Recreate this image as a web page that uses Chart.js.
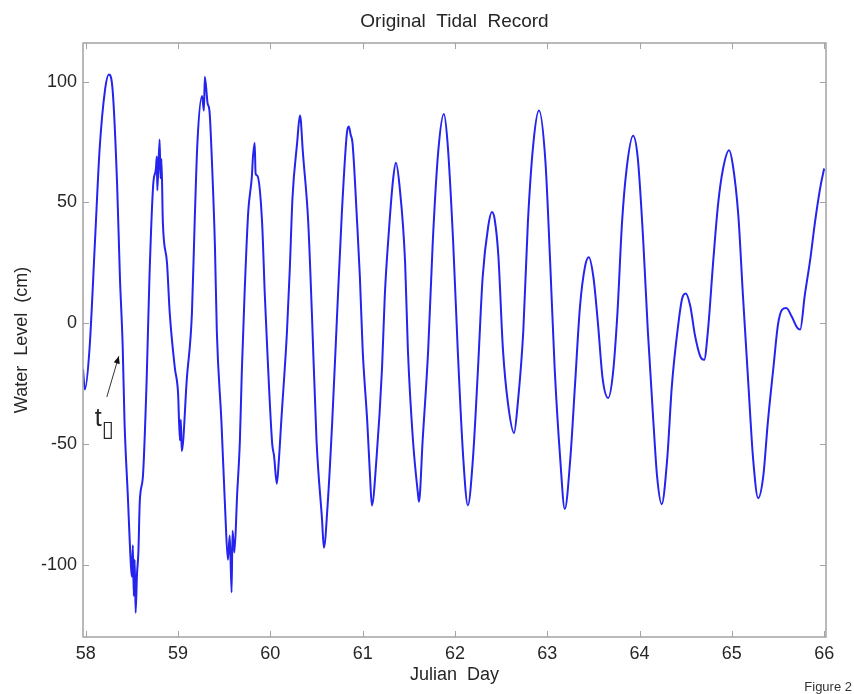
<!DOCTYPE html>
<html>
<head>
<meta charset="utf-8">
<title>Original Tidal Record</title>
<script src="https://cdn.jsdelivr.net/npm/chart.js@4.4.1/dist/chart.umd.min.js"></script>
<style>
    html, body { margin: 0; padding: 0; background: #ffffff; }
    #wrap { width: 854px; height: 694px; }
</style>
</head>
<body>
<div id="wrap"><canvas id="tideChart" width="854" height="694"></canvas></div>
<script>
// Tide record data (Julian day vs water level in cm)
const days = [
    57.97, 57.99, 58.04, 58.10, 58.15, 58.21, 58.25, 58.29, 58.34, 58.37,
    58.40, 58.42, 58.455, 58.49, 58.50, 58.51, 58.52, 58.53, 58.54, 58.555,
    58.57, 58.585, 58.62, 58.66, 58.69, 58.73, 58.76, 58.77, 58.775, 58.80,
    58.81, 58.82, 58.835, 58.88, 58.91, 58.965, 59.00, 59.02, 59.03, 59.04,
    59.095, 59.15, 59.18, 59.21, 59.26, 59.28, 59.29, 59.32, 59.34, 59.37,
    59.40, 59.42, 59.47, 59.51, 59.54, 59.56, 59.58, 59.59, 59.61, 59.64,
    59.67, 59.69, 59.72, 59.76, 59.80, 59.81, 59.83, 59.84, 59.86, 59.91,
    59.94, 59.97, 60.02, 60.04, 60.07, 60.09, 60.12, 60.18, 60.21, 60.24,
    60.29, 60.32, 60.33, 60.35, 60.41, 60.45, 60.50, 60.56, 60.58, 60.62,
    60.67, 60.72, 60.775, 60.83, 60.85, 60.87, 60.89, 60.94, 60.97, 61.00,
    61.05, 61.08, 61.10, 61.15, 61.21, 61.24, 61.285, 61.33, 61.36, 61.40,
    61.46, 61.49, 61.545, 61.60, 61.61, 61.65, 61.71, 61.76, 61.82, 61.88,
    61.92, 61.98, 62.03, 62.09, 62.14, 62.195, 62.25, 62.30, 62.36, 62.40,
    62.43, 62.47, 62.52, 62.575, 62.64, 62.68, 62.74, 62.79, 62.85, 62.91,
    62.98, 63.03, 63.08, 63.14, 63.19, 63.25, 63.30, 63.355, 63.41, 63.45,
    63.50, 63.55, 63.60, 63.66, 63.71, 63.76, 63.81, 63.86, 63.93, 63.98,
    64.04, 64.09, 64.15, 64.19, 64.24, 64.30, 64.35, 64.41, 64.46, 64.50,
    64.55, 64.60, 64.66, 64.70, 64.74, 64.80, 64.85, 64.905, 64.97, 65.01,
    65.07, 65.12, 65.18, 65.23, 65.285, 65.34, 65.39, 65.45, 65.50, 65.545,
    65.59, 65.65, 65.71, 65.74, 65.79, 65.85, 65.90, 65.96, 66.00
];
const levels = [
    -19, -27.5, -11, 34, 72, 97, 103, 97, 57, 19,
    -9.5, -41, -71, -101, -105, -92, -113, -98, -120, -104,
    -95, -74, -63, -23, 19, 57, 64, 69, 55, 76,
    60, 68, 42, 25, 4, -18.5, -29, -48.5, -40, -53,
    -23, 4, 42, 75, 94, 88, 102, 91, 88, 64,
    31, -3.5, -41, -77, -98, -88, -111.5, -86, -95, -71,
    -48.5, -21, 11.5, 46, 61, 68, 74.6, 62, 61, 42,
    11.5, -14, -50, -55, -66.5, -58, -39.5, -3.5, 22, 52,
    74.6, 86, 84, 72, 42, 4, -48.5, -81.5, -93, -75.5,
    -41, 1, 46, 79, 81.4, 78, 74.6, 41.6, 19, -11,
    -41, -63.5, -75.5, -56, -18.5, 11.5, 38.6, 59.6, 66.4, 56.6,
    25, -11, -48.5, -71, -74, -48.5, -11, 34, 71.6, 86.6,
    74.6, 34, -11, -56, -75.5, -56, -18.5, 19, 40, 46,
    43, 28, -11, -33.5, -45.5, -33.5, -3.5, 41.6, 74.6, 88,
    67, 26.6, -18.5, -56, -77, -56, -26, 7, 23.6, 27.3,
    19, -0.5, -23, -31, -21.5, 4, 41.6, 64, 77.6, 68.6,
    34, -3.5, -41, -63.5, -75, -56, -26, -3.5, 10, 12.3,
    7, -5, -14, -15.2, -3.5, 26.6, 49, 64, 71.6, 65.6,
    44.6, 11.5, -26, -56, -72.5, -63.5, -41, -18.5, -0.5, 5.6,
    6.3, 2.6, -2, -2.7, 11.5, 26.6, 41.6, 56.6, 64
];

// Axis ticks
const xTicks = [58, 59, 60, 61, 62, 63, 64, 65, 66];
const yTicks = [-100, -50, 0, 50, 100];

// t0 marker (arrow tail, arrow tip, label position) in data units
const markerTail = [58.228, -30.6];
const markerTip = [58.358, -13.7];
const markerLabel = [58.12, -42.5];

const textColor = '#262626';
const frameColor = '#a3a3a3';
const fontFamily = '"Liberation Sans", Arial, Helvetica, sans-serif';

// Frame, inward tick marks, t0 annotation and figure tag
const framePlugin = {
    id: 'matlabFrame',
    afterDatasetsDraw(chart) {
        const { ctx, chartArea: a, scales } = chart;
        const xs = scales.x, ys = scales.y;
        ctx.save();
        ctx.strokeStyle = frameColor;
        ctx.lineWidth = 1.5;
        ctx.strokeRect(a.left, a.top, a.right - a.left, a.bottom - a.top);

        ctx.lineWidth = 1;
        ctx.beginPath();
        xTicks.forEach(v => {
            const px = Math.round(xs.getPixelForValue(v)) + 0.5;
            ctx.moveTo(px, a.bottom); ctx.lineTo(px, a.bottom - 6);
            ctx.moveTo(px, a.top); ctx.lineTo(px, a.top + 6);
        });
        yTicks.forEach(v => {
            const py = Math.round(ys.getPixelForValue(v)) + 0.5;
            ctx.moveTo(a.left, py); ctx.lineTo(a.left + 6, py);
            ctx.moveTo(a.right, py); ctx.lineTo(a.right - 6, py);
        });
        ctx.stroke();

        // t0 arrow
        const tx = xs.getPixelForValue(markerTail[0]), ty = ys.getPixelForValue(markerTail[1]);
        const hx = xs.getPixelForValue(markerTip[0]), hy = ys.getPixelForValue(markerTip[1]);
        const ang = Math.atan2(hy - ty, hx - tx);
        ctx.strokeStyle = '#333333';
        ctx.fillStyle = '#111111';
        ctx.lineWidth = 1;
        ctx.beginPath();
        ctx.moveTo(tx, ty); ctx.lineTo(hx, hy);
        ctx.stroke();
        ctx.beginPath();
        ctx.moveTo(hx, hy);
        ctx.lineTo(hx - 8 * Math.cos(ang - 0.4), hy - 8 * Math.sin(ang - 0.4));
        ctx.lineTo(hx - 8 * Math.cos(ang + 0.4), hy - 8 * Math.sin(ang + 0.4));
        ctx.closePath();
        ctx.fill();

        const lx = xs.getPixelForValue(markerLabel[0]), ly = ys.getPixelForValue(markerLabel[1]);
        ctx.fillStyle = textColor;
        ctx.textAlign = 'left';
        ctx.textBaseline = 'alphabetic';
        ctx.font = '25px ' + fontFamily;
        ctx.fillText('t', lx - 2, ly);
        ctx.font = '22px "DejaVu Sans", sans-serif';
        ctx.fillText('\u25AF', lx + 5, ly + 10);

        // figure tag, bottom right
        ctx.font = '13px ' + fontFamily;
        ctx.textAlign = 'right';
        ctx.fillStyle = '#333333';
        ctx.fillText('Figure 2', 852, 691);
        ctx.restore();
    }
};

const ctx = document.getElementById('tideChart').getContext('2d');
const tideChart = new Chart(ctx, {
    type: 'line',
    data: {
        datasets: [{
            label: 'Water Level',
            data: days.map((d, i) => ({ x: d, y: levels[i] })),
            borderColor: '#2424ee',
            borderWidth: 2,
            pointRadius: 0,
            fill: false,
            cubicInterpolationMode: 'monotone'
        }]
    },
    options: {
        responsive: false,
        animation: false,
        layout: { padding: { left: 0, right: 28, top: 0, bottom: 0 } },
        plugins: {
            legend: { display: false },
            tooltip: { enabled: false },
            title: {
                display: true,
                fullSize: false,
                text: 'Original  Tidal  Record',
                color: textColor,
                font: { family: fontFamily, size: 19, weight: 'normal', lineHeight: 1 },
                padding: { top: 12, bottom: 12 }
            }
        },
        scales: {
            x: {
                type: 'linear',
                min: 57.97,
                max: 66.02,
                grid: { display: false, drawTicks: false },
                border: { display: false },
                afterBuildTicks: (scale) => { scale.ticks = xTicks.map(v => ({ value: v })); },
                afterFit: (scale) => { scale.height = 57; },
                ticks: {
                    color: textColor,
                    padding: 6,
                    maxRotation: 0,
                    autoSkip: false,
                    font: { family: fontFamily, size: 18 },
                    callback: (v) => String(v)
                },
                title: {
                    display: true,
                    text: 'Julian  Day',
                    color: textColor,
                    font: { family: fontFamily, size: 18 },
                    padding: { top: 0, bottom: 8 }
                }
            },
            y: {
                type: 'linear',
                min: -130,
                max: 116,
                grid: { display: false, drawTicks: false },
                border: { display: false },
                afterBuildTicks: (scale) => { scale.ticks = yTicks.map(v => ({ value: v })); },
                afterFit: (scale) => { scale.width = 83; },
                ticks: {
                    color: textColor,
                    padding: 6,
                    autoSkip: false,
                    font: { family: fontFamily, size: 18 },
                    callback: (v) => String(v)
                },
                title: {
                    display: true,
                    text: 'Water  Level  (cm)',
                    color: textColor,
                    font: { family: fontFamily, size: 18 },
                    padding: { top: 11, bottom: 0 }
                }
            }
        }
    },
    plugins: [framePlugin]
});
</script>
</body>
</html>
